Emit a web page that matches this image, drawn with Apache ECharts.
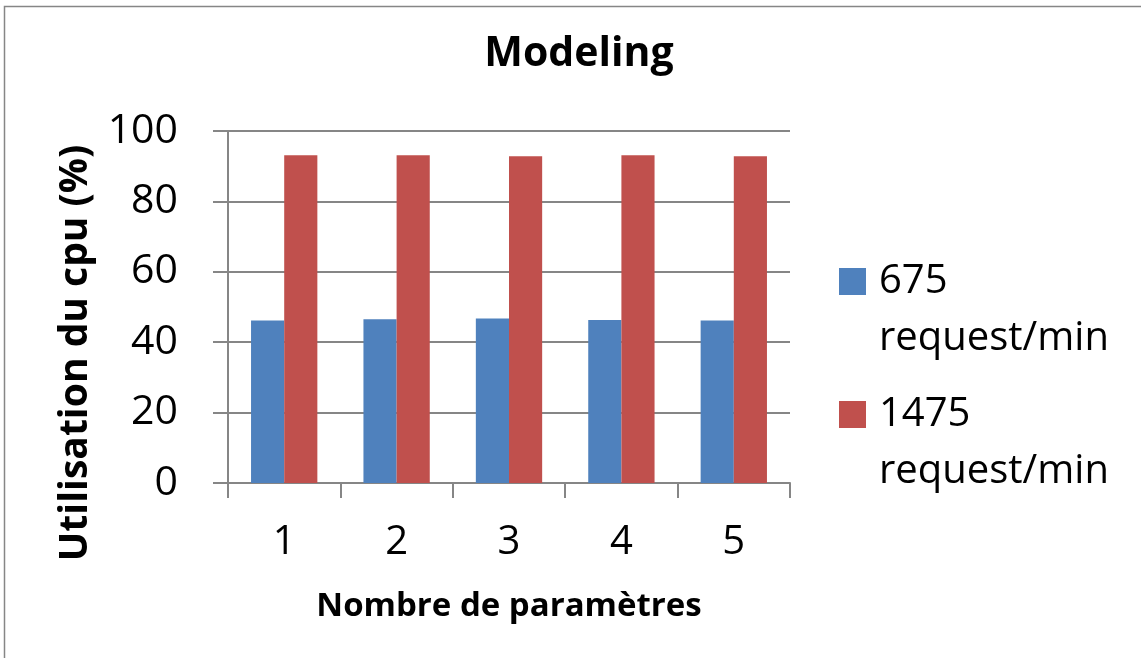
<!DOCTYPE html>
<html>
<head>
<meta charset="utf-8">
<script src="https://cdn.jsdelivr.net/npm/echarts@6/dist/echarts.min.js"></script>
<style>html,body{margin:0;padding:0;background:#fff;}#c{width:1141px;height:658px;}</style>
</head>
<body>
<div id="c"></div>
<script>
const categories = ['1', '2', '3', '4', '5'];
const seriesNames = ['675\nrequest/min', '1475\nrequest/min'];
const values675 = [46.2, 46.5, 46.7, 46.3, 46.2];
const values1475 = [93.1, 93.1, 92.8, 93.1, 92.8];
const yTicks = [0, 20, 40, 60, 80, 100];

const FONT = 'Open Sans';
const chart = echarts.init(document.getElementById('c'), null, {renderer: 'canvas'});
chart.setOption({
  backgroundColor: '#fff',
  animation: false,
  textStyle: {fontFamily: FONT},
  graphic: [{
    type: 'rect', shape: {x: 4.5, y: 6.5, width: 1300, height: 900},
    style: {fill: 'none', stroke: '#868686', lineWidth: 1.5}, silent: true
  }],
  title: {
    text: 'Modeling', left: 574, textAlign: 'center', top: 29,
    textStyle: {fontFamily: FONT, fontWeight: 'bold', fontSize: 41, color: '#000'}
  },
  legend: {
    orient: 'vertical', left: 834, top: 191,
    itemWidth: 27, itemHeight: 27, itemGap: -38,
    icon: 'rect',
    formatter: name => '{s|\u00a0}\n' + name.split('\n').map(l => '{t|' + l + '}').join('\n'),
    textStyle: {
      fontFamily: FONT, fontSize: 40, color: '#000', lineHeight: 57,
      rich: {
        s: {fontFamily: FONT, fontSize: 40, lineHeight: 57, color: '#000'},
        t: {fontFamily: FONT, fontSize: 40, lineHeight: 57, color: '#000', padding: [0, 0, 0, 8]}
      }
    },
    data: seriesNames
  },
  grid: {left: 228, right: 351, top: 131, bottom: 175, containLabel: false},
  xAxis: {
    type: 'category', data: categories,
    name: 'Nombre de paramètres', nameLocation: 'middle', nameGap: 107,
    nameTextStyle: {fontFamily: FONT, fontWeight: 'bold', fontSize: 33, color: '#000'},
    axisLine: {lineStyle: {color: '#868686', width: 2}},
    axisTick: {show: true, length: 15, lineStyle: {color: '#868686', width: 2}},
    axisLabel: {fontFamily: FONT, fontSize: 40, color: '#000', margin: 40}
  },
  yAxis: {
    type: 'value', min: 0, max: 100, interval: 20,
    name: 'Utilisation du cpu (%)', nameLocation: 'middle', nameGap: 133, nameRotate: 90,
    nameTextStyle: {fontFamily: FONT, fontWeight: 'bold', fontSize: 39, color: '#000', padding: [0, 92, 0, 0]},
    axisLine: {show: true, lineStyle: {color: '#868686', width: 2}},
    axisTick: {show: true, length: 15, lineStyle: {color: '#868686', width: 2}},
    splitLine: {show: true, lineStyle: {color: '#868686', width: 2}},
    axisLabel: {fontFamily: FONT, fontSize: 41, color: '#000', margin: 50,
      formatter: v => yTicks.includes(v) ? String(v) : ''}
  },
  series: [
    {name: seriesNames[0], type: 'bar', data: values675, barWidth: '29.5%', barGap: '0%',
     itemStyle: {color: '#4F81BD'}},
    {name: seriesNames[1], type: 'bar', data: values1475, barWidth: '29.5%', barGap: '0%',
     itemStyle: {color: '#C0504D'}}
  ]
});
</script>
</body>
</html>
